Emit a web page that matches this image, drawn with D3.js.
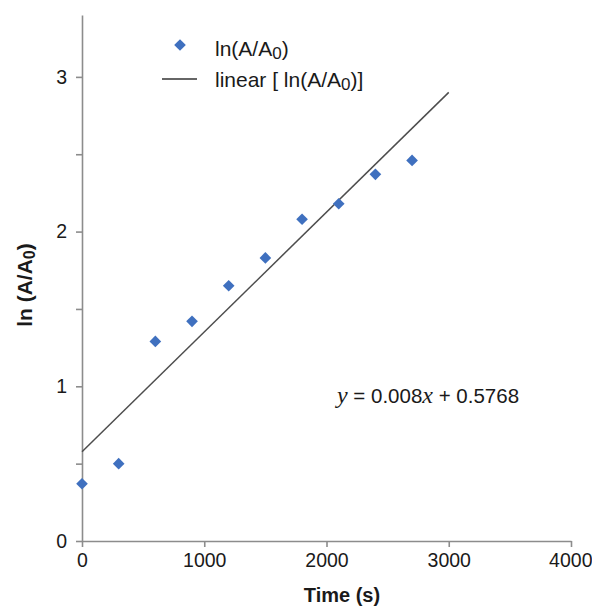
<!DOCTYPE html>
<html>
<head>
<meta charset="utf-8">
<script src="https://cdn.jsdelivr.net/npm/d3@7"></script>
<style>
  body { margin: 0; background: #fff; }
  text { font-family: "Liberation Sans", Arial, sans-serif; fill: #1a1a1a; }
</style>
</head>
<body>
<div id="chart"></div>
<script>
// data
var times = [0, 300, 600, 900, 1200, 1500, 1800, 2100, 2400, 2700];
var lnRatio = [0.37, 0.50, 1.29, 1.42, 1.65, 1.83, 2.08, 2.18, 2.37, 2.46];
var fitX = [0, 3000];
var fitY = [0.5768, 2.9];
var xTicks = [0, 1000, 2000, 3000, 4000];
var yTicks = [0, 0.5, 1, 1.5, 2, 2.5, 3];

var w = 592, h = 606;
var plotL = 82, plotR = 571, plotT = 15, plotB = 541;

var svg = d3.select("#chart").append("svg")
    .attr("width", w)
    .attr("height", h);

var x = d3.scaleLinear().domain([0, 4000]).range([plotL, plotR]);
var y = d3.scaleLinear().domain([0, 3.4]).range([plotB, plotT]);

// x axis
var xAxis = d3.axisBottom(x)
    .tickValues(xTicks)
    .tickSize(6)
    .tickSizeOuter(0)
    .tickPadding(6)
    .tickFormat(d3.format("d"));
var gx = svg.append("g")
    .attr("transform", "translate(0," + plotB + ")")
    .call(xAxis);

// y axis, labels only on whole numbers
var yAxis = d3.axisLeft(y)
    .tickValues(yTicks)
    .tickSize(6)
    .tickSizeOuter(0)
    .tickPadding(9)
    .tickFormat(function(d) { return d % 1 === 0 ? d : ""; });
svg.append("g")
    .attr("transform", "translate(" + plotL + ",0)")
    .call(yAxis);

svg.selectAll(".domain, .tick line")
    .attr("stroke", "#8c8c8c")
    .attr("stroke-width", 1.6);
svg.selectAll(".tick text")
    .style("font-size", "19.5px")
    .attr("fill", "#1a1a1a");
// keep the last x label inside the window
gx.selectAll(".tick text").filter(function(d) { return d === 4000; })
    .attr("text-anchor", "end")
    .attr("dx", 21);

// trend line
svg.append("line")
    .attr("x1", x(fitX[0])).attr("y1", y(fitY[0]))
    .attr("x2", x(fitX[1])).attr("y2", y(fitY[1]))
    .attr("stroke", "#4d4d4d")
    .attr("stroke-width", 1.5);

// points
var diamond = d3.symbol().type(d3.symbolSquare).size(68);
svg.selectAll("path.pt")
    .data(times)
    .enter()
    .append("path")
    .attr("class", "pt")
    .attr("d", diamond)
    .attr("fill", "#3f70bf")
    .attr("transform", function(d, i) {
        return "translate(" + x(d) + "," + y(lnRatio[i]) + ") rotate(45)";
    });

// legend
svg.append("path")
    .attr("d", diamond)
    .attr("fill", "#3f70bf")
    .attr("transform", "translate(180,45) rotate(45)");
var l1 = svg.append("text").attr("x", 215).attr("y", 56).style("font-size", "21px");
l1.append("tspan").text("ln(A/A");
l1.append("tspan").attr("dy", 3).style("font-size", "17px").text("0");
l1.append("tspan").attr("dy", -3).text(")");

svg.append("line")
    .attr("x1", 162).attr("x2", 197)
    .attr("y1", 79).attr("y2", 79)
    .attr("stroke", "#333")
    .attr("stroke-width", 1.6);
var l2 = svg.append("text").attr("x", 215).attr("y", 87).style("font-size", "21px");
l2.append("tspan").text("linear [ ln(A/A");
l2.append("tspan").attr("dy", 3).style("font-size", "17px").text("0");
l2.append("tspan").attr("dy", -3).text(")]");

// equation
var eq = svg.append("text").attr("x", 337).attr("y", 403).style("font-size", "20.5px");
eq.append("tspan").style("font-family", "'Liberation Serif', serif").style("font-style", "italic").style("font-size", "24px").text("y");
eq.append("tspan").text(" = 0.008");
eq.append("tspan").style("font-family", "'Liberation Serif', serif").style("font-style", "italic").style("font-size", "24px").text("x");
eq.append("tspan").text(" + 0.5768");

// axis titles
svg.append("text")
    .attr("x", 342).attr("y", 602)
    .attr("text-anchor", "middle")
    .style("font-size", "20px")
    .style("font-weight", "bold")
    .text("Time (s)");

var yt = svg.append("text")
    .attr("transform", "translate(32,285) rotate(-90)")
    .attr("text-anchor", "middle")
    .style("font-size", "21px")
    .style("font-weight", "bold");
yt.append("tspan").text("ln (A/A");
yt.append("tspan").attr("dy", 3).style("font-size", "16px").text("0");
yt.append("tspan").attr("dy", -3).text(")");
</script>
</body>
</html>
